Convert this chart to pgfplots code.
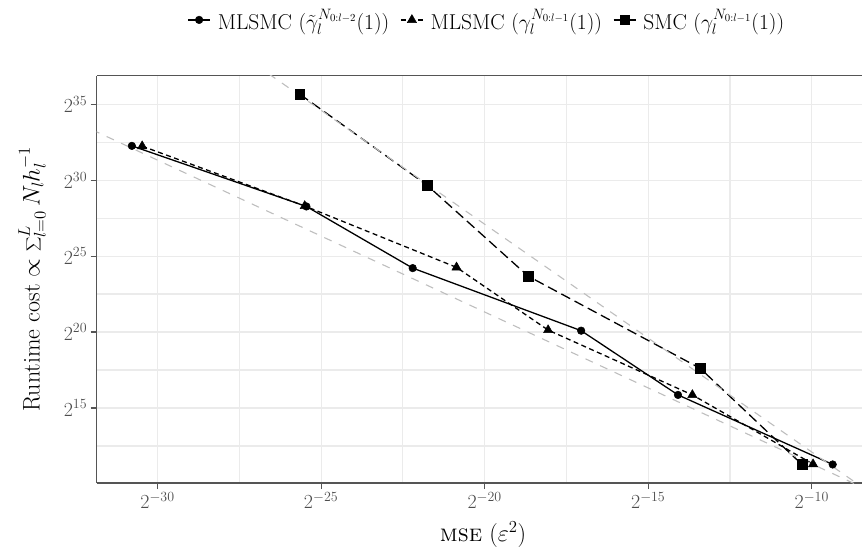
\RequirePackage{fix-cm}
\documentclass[border=0pt]{standalone}
\usepackage{pgfplots}
\pgfplotsset{compat=1.18}
\definecolor{gridc}{HTML}{EBEBEB}
\definecolor{axc}{HTML}{555555}
\definecolor{tickc}{HTML}{4D4D4D}
\definecolor{refc}{HTML}{BEBEBE}

% values are log2 of (MSE, cost)
\pgfplotstableread{
lx ly
-30.785 32.26
-25.45 28.27
-22.20 24.21
-17.05 20.09
-14.09 15.86
-9.36 11.28
}\mlsmcA
\pgfplotstableread{
lx ly
-30.47 32.24
-25.50 28.30
-20.86 24.26
-18.06 20.13
-13.65 15.86
-9.96 11.30
}\mlsmcB
\pgfplotstableread{
lx ly
-25.65 35.66
-21.76 29.67
-18.67 23.68
-13.41 17.61
-10.30 11.28
}\smc

\begin{document}
\begin{tikzpicture}
\begin{axis}[
  at={(0pt,0pt)}, anchor=south west,
  scale only axis, width=771pt, height=407.3pt,
  xmin=-31.86, xmax=-8.29, ymin=10.06, ymax=36.88,
  axis x line=box, axis y line=left,
  axis line style={-, draw=axc, line width=1.1pt},
  xtick={-30,-25,-20,-15,-10},
  xticklabels={$2^{-30}$,$2^{-25}$,$2^{-20}$,$2^{-15}$,$2^{-10}$},
  ytick={15,20,25,30,35},
  yticklabels={$2^{15}$,$2^{20}$,$2^{25}$,$2^{30}$,$2^{35}$},
  minor xtick={-27.5,-22.5,-17.5,-12.5},
  minor ytick={12.5,17.5,22.5,27.5,32.5},
  grid=both,
  major grid style={draw=gridc, line width=1.2pt},
  minor grid style={draw=gridc, line width=1.2pt},
  tick align=outside, xtick pos=left, ytick pos=left,
  major tick length=6pt, minor tick length=0pt,
  tick style={draw=axc, line width=1.1pt},
  ticklabel style={font=\fontsize{20}{24}\selectfont, text=tickc},
  xlabel={\textsc{mse} ($\varepsilon^2$)},
  xlabel style={at={(axis description cs:0.501,-0.127)}, anchor=center, font=\fontsize{24}{28}\selectfont},
  ylabel={Runtime cost $\propto \displaystyle\sum\nolimits_{l=0}^{L} N_l h_l^{-1}$},
  ylabel style={at={(axis description cs:-0.0839,0.5)}, anchor=center, font=\fontsize{24}{28}\selectfont},
  legend columns=-1,
  legend style={at={(axis description cs:0.506,1.137)}, anchor=center, draw=none, fill=none,
    font=\fontsize{21.5}{25}\selectfont,
    /tikz/every odd column/.append style={column sep=5pt},
    /tikz/every even column/.append style={column sep=9pt}},
  legend image code/.code={\draw[mark repeat=2, mark phase=2, #1] plot coordinates {(0pt,0pt) (11pt,0pt) (22pt,0pt)};},
]
\addplot[black, line width=1.3pt, mark=*, mark size=3.8pt, mark options={solid, line width=0.5pt}] table[x=lx,y=ly]{\mlsmcA};
\addlegendentry{MLSMC ($\tilde{\gamma}_l^{N_{0:l-2}}(1)$)}
\addplot[black, line width=1.3pt, dash pattern=on 5pt off 3.5pt, mark=triangle*, mark size=5.3pt, mark options={solid, line width=0.5pt}] table[x=lx,y=ly]{\mlsmcB};
\addlegendentry{MLSMC ($\gamma_l^{N_{0:l-1}}(1)$)}
\addplot[black, line width=1.3pt, dash pattern=on 10pt off 5pt, mark=square*, mark size=4.8pt, mark options={solid, line width=0.5pt}] table[x=lx,y=ly]{\smc};
\addlegendentry{SMC ($\gamma_l^{N_{0:l-1}}(1)$)}
\addplot[refc, line width=1.1pt, dash pattern=on 8pt off 8pt, forget plot] coordinates {(-32,33.32) (-8,9.32)};
\addplot[refc, line width=1.1pt, dash pattern=on 8pt off 8pt, forget plot] coordinates {(-27,37.6) (-8,9.1)};
\end{axis}
\pgfresetboundingbox
\useasboundingbox (-96.7pt,-69pt) rectangle (765.3pt,483pt);
\end{tikzpicture}
\end{document}
